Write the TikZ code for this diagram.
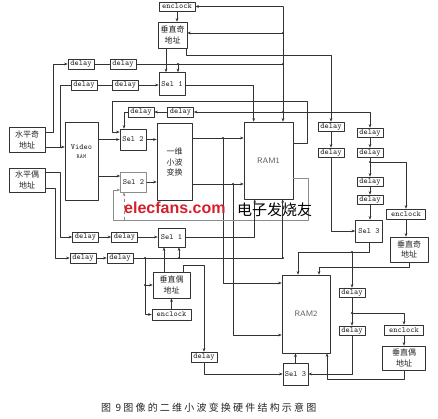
\documentclass[tikz,border=0pt]{standalone}
\usepackage{fontspec}
\usetikzlibrary{arrows.meta}
\newfontfamily\cjk{Noto Sans CJK SC}
\newfontfamily\cjkcap[LetterSpace=22]{Noto Sans CJK SC}
\newfontfamily\wmfont{Liberation Sans}
\definecolor{wmred}{RGB}{212,32,44}

\tikzset{
  blk/.style={draw=black!80, line width=0.6pt, inner sep=0pt, align=center, text=black!85},
  dly/.style={blk, minimum width=26pt, minimum height=10pt, font=\ttfamily\fontsize{8}{8}\selectfont},
  clk/.style={blk, minimum width=39pt, minimum height=10pt, font=\ttfamily\fontsize{8}{8}\selectfont},
  sel/.style={blk, minimum width=26pt, minimum height=21pt, font=\ttfamily\fontsize{8}{8}\selectfont},
  addr/.style={blk, minimum width=37pt, minimum height=25pt, font=\cjk\fontsize{8}{10.5}\selectfont},
  wire/.style={draw=black!80, line width=0.45pt},
  faint/.style={draw=black!45, line width=0.45pt}
}

\begin{document}
\begin{tikzpicture}[x=1pt, y=-1pt, >={Stealth[length=3.5pt,width=2.6pt]}, line cap=round, line join=round]
  \useasboundingbox (0,0) rectangle (438,419);

  % === RAM1 SIDE: ADDRESS GENERATION ===
  \node[clk, minimum width=36pt, minimum height=9pt] (encA) at (177,6.5) {enclock};
  \node[addr, minimum width=29pt, minimum height=26pt] (vOddA) at (172.5,35) {垂直奇\\地址};
  \node[dly] (dR1a) at (81,64) {delay};
  \node[dly] (dR1b) at (123,64) {delay};
  \node[sel, minimum height=23pt] (selA) at (172,84) {Sel 1};
  \node[dly] (dR2a) at (84,85) {delay};
  \node[dly] (dR2b) at (125.5,85) {delay};
  \node[dly] (dFa) at (141,112) {delay};
  \node[dly] (dFb) at (180.5,112) {delay};

  \node[addr, minimum width=36pt] (hOdd) at (27,140) {水平奇\\地址};
  \node[addr, minimum width=36pt, minimum height=24pt] (hEven) at (27,180) {水平偶\\地址};
  \node[blk, minimum width=33pt, minimum height=78pt] (vram) at (81.5,161) {};
  \node[font=\ttfamily\fontsize{8}{8}\selectfont, text=black!85, align=center, anchor=north] (vramlbl) at (81.5,141) {Video\\[1pt]{\fontsize{6}{6}\selectfont RAM}};
  \node[sel] (sel2a) at (133,139.5) {Sel 2};
  \node[sel, draw=black!45, minimum height=20pt] (sel2b) at (133.5,182) {Sel 2};
  \node[blk, minimum width=35pt, minimum height=77pt, font=\cjk\fontsize{8}{10.5}\selectfont] (dwt) at (174.5,162) {一维\\小波\\变换};
  \node[blk, minimum width=49pt, minimum height=77pt, font=\sffamily\fontsize{8}{8}\selectfont, text=black!65] (ram1) at (268.5,160.5) {RAM1};

  \node[dly] (dR3a) at (85.5,237) {delay};
  \node[dly] (dR3b) at (124.5,237) {delay};
  \node[sel, minimum width=27pt, minimum height=19pt] (selB) at (171.5,237.5) {Sel 1};
  \node[dly] (dR4a) at (83,258) {delay};
  \node[dly] (dR4b) at (120,258) {delay};
  \node[addr, minimum height=26pt] (vEvenA) at (171.5,285) {垂直偶\\地址};
  \node[clk, minimum height=11pt] (encB) at (171.5,314.5) {enclock};
  \node[dly] (dBL) at (204,357) {delay};

  % === RAM2 SIDE ===
  \node[dly, minimum height=9pt] (dA1) at (331,126.5) {delay};
  \node[dly, minimum height=9pt] (dA2) at (331,152.5) {delay};
  \node[dly, minimum height=9pt] (dB1) at (370,132.5) {delay};
  \node[dly, minimum height=9pt] (dB2) at (370,152.5) {delay};
  \node[dly, minimum height=9pt] (dB3) at (370,181.5) {delay};
  \node[dly, minimum height=9pt] (dB4) at (370,199.5) {delay};
  \node[clk] (encC) at (406,214) {enclock};
  \node[addr, minimum width=38pt] (vOddB) at (409,249.5) {垂直奇\\地址};
  \node[sel, minimum width=27pt, minimum height=22pt] (sel3a) at (369,231) {Sel 3};
  \node[blk, minimum width=48pt, minimum height=78pt, font=\sffamily\fontsize{8}{8}\selectfont, text=black!65] (ram2) at (306,314) {RAM2};
  \node[dly, minimum height=9pt] (dC1) at (352,292.5) {delay};
  \node[dly, minimum height=9pt] (dC2) at (352,330.5) {delay};
  \node[clk] (encD) at (404,330) {enclock};
  \node[addr, minimum width=43pt, minimum height=24pt] (vEvenB) at (404,358) {垂直偶\\地址};
  \node[sel, minimum width=25pt, minimum height=22pt] (sel3b) at (295.5,374) {Sel 3};

  % === WIRES, UPPER HALF ===
  \coordinate (bTop) at (283,6.5);
  \coordinate (b112) at (283,112);
  \draw[wire, ->] (bTop) -- (encA.east);
  \draw[wire, ->] (bTop) -- (ram1.north -| bTop);
  \draw[wire, ->] (283,33) -- (vOddA.east |- 0,33);
  \draw[wire, ->] (encA.south) -- (encA.south |- vOddA.north);
  \draw[wire, ->] (vOddA.south -| 166,0) -- (selA.north -| 166,0);
  \draw[wire, ->] ([xshift=-1pt]vOddA.south east) |- (331,55) -- (dA1.north);
  \draw[wire, ->] (hOdd.east |- 0,132) -| (53,64) -- (dR1a.west);
  \draw[wire] (dR1a) -- (dR1b);
  \draw[wire] (dR1b.east) -- (dR1b.east -| bTop);
  \draw[wire, ->] (178,64) -- (selA.north -| 178,0);
  \draw[wire, ->] (hOdd.east |- 0,147) -- (vram.west |- 0,147);
  \draw[wire] (60,147) |- (dR2a.west);
  \draw[wire] (dR2a) -- (dR2b);
  \draw[wire, ->] (dR2b) -- (selA.west |- dR2b);
  \draw[wire, ->] (selA.east |- dR2b) -| ([xshift=10pt]ram1.north west);
  \draw[wire, ->] (ram1.east |- 0,143) -| (307,101) -| (112,132) -- (sel2a.west |- 0,132);
  \draw[wire, ->] (b112) -- (dFb.east);
  \draw[wire, ->] (dFb) -- (dFa);
  \draw[wire, ->] (dFa.west) -| (sel2a.north -| 124,0);
  \draw[wire, ->] (b112) -| (dB1.north);

  % === DATA PATH ===
  \draw[wire, ->] (vram.east |- sel2a) -- (sel2a.west);
  \draw[wire, ->] (vram.east |- 0,176) -- (sel2b.west |- 0,176);
  \draw[wire, ->] (sel2a) -- (dwt.west |- sel2a);
  \draw[wire, ->] (sel2b) -- (dwt.west |- sel2b);
  \draw[wire, ->] (dwt.east |- 0,138) -- (ram1.west |- 0,138);
  \draw[wire, ->] (dwt.east |- 0,184) -- (ram1.west |- 0,184);
  \draw[wire, ->] (223,138) |- (ram2.west |- 0,283);
  \draw[wire, ->] (233,184) |- (ram2.west |- 0,335);
  \draw[faint, ->] (ram1.east |- 0,178) -| (308,220) -| (113,190) -- (sel2b.west |- 0,190);
  \draw[faint, ->, dashed] (124,220) -- (sel2b.south -| 124,0);

  % === WIRES, LOWER HALF ===
  \draw[wire, ->] (hEven.east |- 0,172) -| (60,237) -- (dR3a.west);
  \draw[wire, ->] (dR3a) -- (dR3b);
  \draw[wire, ->] (dR3b) -- (selB.west |- dR3b);
  \draw[wire, ->] (selB.east |- dR3b) -| ([xshift=11pt]ram1.south west);
  \draw[wire, ->] (hEven.east |- 0,188) -| (55,258) -- (dR4a.west);
  \draw[wire, ->] (dR4a) -- (dR4b);
  \draw[wire, ->] (dR4b.east) -| ([xshift=39pt]ram1.south west);
  \draw[wire, ->] (179,258) -- (selB.south -| 179,0);
  \draw[wire, ->] (vEvenA.north -| 164,0) -- (selB.south -| 164,0);
  \draw[wire, ->] (145,258) |- (encB.west);
  \draw[wire, ->] (145,285) -- (vEvenA.west);
  \draw[wire, ->] (encB) -- (vEvenA);
  \draw[wire, ->] (vEvenA.north -| 183,0) |- (204,265) -- (dBL.north);
  \draw[wire, ->] (dBL.south) |- (sel3b.west);

  \draw[wire, ->] (dA1) -- (dA2);
  \draw[wire, ->] (dA2.south) |- (sel3a.west);
  \draw[wire, ->] (dB1) -- (dB2);
  \draw[wire, ->] (dB2) -- (dB3);
  \draw[wire, ->] (370,162) -| (encC.north);
  \draw[wire, ->] (dB3) -- (dB4);
  \draw[wire, ->] (dB4.south) -- (dB4.south |- sel3a.north);
  \draw[wire, ->] (encC.south) -- (encC.south |- vOddB.north);
  \draw[wire, ->] (vOddB.south) |- (319,267) -- (ram2.north -| 319,0);
  \draw[wire, ->] (sel3a.south) |- (298,252) -- (ram2.north -| 298,0);
  \draw[wire, ->] (352,252) -- (dC1.north);
  \draw[wire, ->] (dC1) -- (dC2);
  \draw[wire, ->] (352,313) -| (encD.north);
  \draw[wire, ->] (encD) -- (vEvenB);
  \draw[wire, ->] (dC2.south) |- (sel3b.east);
  \draw[wire, ->] (vEvenB.south) |- (327,379) -- (ram2.south -| 327,0);
  \draw[wire, ->] (sel3b.north) -- (sel3b.north |- ram2.south);

  % junction dots
  \foreach \p in {(283,33), (283,64), (283,112), (178,64), (223,138), (233,184),
                  (145,258), (179,258), (283,258), (145,285), (370,162), (352,252), (352,313)} {
    \fill[black!80] \p circle (1.2pt);
  }

  % watermark and caption
  \node[anchor=base west, text=wmred, font=\wmfont\bfseries\fontsize{16}{16}\selectfont, inner sep=0pt] (wmEn) at (124,214) {elecfans.com};
  \node[anchor=base west, font=\cjk\fontsize{15}{15}\selectfont, inner sep=0pt] (wmCn) at (237,215) {电子发烧友};
  \node[anchor=west, font=\cjkcap\fontsize{10}{11}\selectfont, text=black!85, inner sep=0pt] (caption) at (101,408) {图 9图像的二维小波变换硬件结构示意图};
\end{tikzpicture}
\end{document}
